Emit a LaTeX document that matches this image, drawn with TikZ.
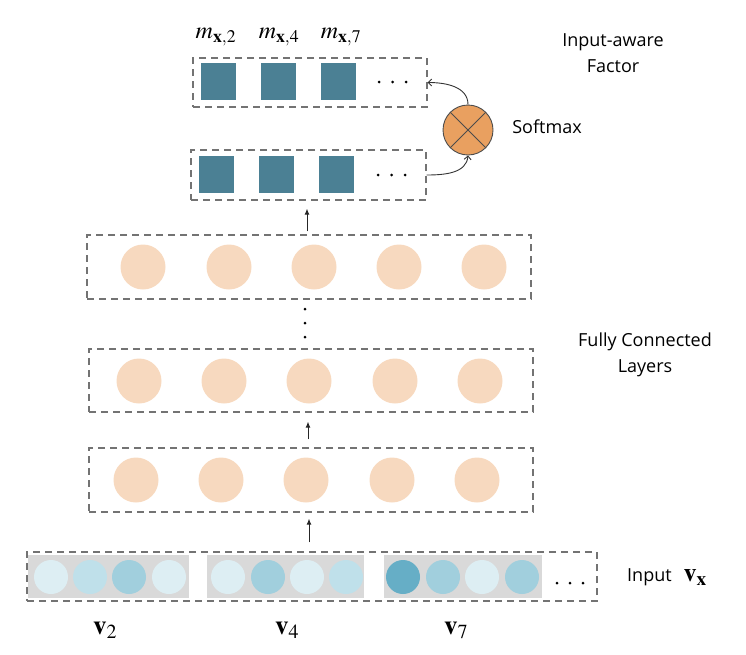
\documentclass[tikz,border=0pt]{standalone}
\usepackage{mathptmx}
\usepackage[no-math]{fontspec}
\setmainfont{Open Sans}
\usetikzlibrary{arrows.meta}
\definecolor{peach}{HTML}{F7D9BF}
\definecolor{mteal}{HTML}{4B8094}
\definecolor{cA}{HTML}{DDEEF3}
\definecolor{cB}{HTML}{BFE0EA}
\definecolor{cC}{HTML}{A1CFDD}
\definecolor{cD}{HTML}{66AEC6}
\definecolor{greyrect}{HTML}{D9D9D9}
\definecolor{smfill}{HTML}{E9A060}
\begin{document}
\begin{tikzpicture}[x=1pt,y=-1pt,
  dbox/.style={draw=black!55, line width=1.2pt, dash pattern=on 7pt off 5pt, inner sep=0pt},
  sq/.style={fill=mteal, draw=none, minimum width=35, minimum height=37, inner sep=0pt},
  fc/.style={circle, fill=peach, draw=none, minimum size=45, inner sep=0pt},
  inc/.style={circle, fill=#1, draw=none, minimum size=34, inner sep=0pt},
  grect/.style={fill=greyrect, draw=none, minimum height=43, inner sep=0pt},
  dotn/.style={circle, fill=black, draw=none, minimum size=3, inner sep=0pt},
  arr/.style={-{Latex[length=6pt,width=5pt]}, line width=1pt, black!85},
  sarr/.style={-{Straight Barb[length=3.5pt,width=7pt]}, line width=0.9pt, black!80},
  sans/.style={font=\fontsize{18}{26}\selectfont, align=center, inner sep=0pt},
  mlab/.style={font=\fontsize{24}{26}\selectfont, inner sep=0pt},
  vlab/.style={font=\fontsize{27}{30}\selectfont, inner sep=0pt}
]
\useasboundingbox (0,0) rectangle (746,654);

% dashed boxes
\node[dbox, minimum width=234, minimum height=49] (b1) at (310,82.5) {};
\node[dbox, minimum width=235, minimum height=50] (b2) at (308.5,175) {};
\node[dbox, minimum width=444, minimum height=64] (f1) at (309,267) {};
\node[dbox, minimum width=444, minimum height=63] (f2) at (311,380.5) {};
\node[dbox, minimum width=444, minimum height=64] (f3) at (311,480) {};
\node[dbox, minimum width=570, minimum height=49] (in) at (312,576.5) {};

% squares
\node[sq] (s11) at (218.5,81.5) {};
\node[sq] (s12) at (278.5,81.5) {};
\node[sq] (s13) at (338,81.5) {};
\node[sq] (s21) at (216,174) {};
\node[sq] (s22) at (276,174) {};
\node[sq] (s23) at (336,174) {};
\node[dotn] (d11) at (379,82) {};
\node[dotn] (d12) at (392.5,82) {};
\node[dotn] (d13) at (406,82) {};
\node[dotn] (d21) at (378,175) {};
\node[dotn] (d22) at (391.5,175) {};
\node[dotn] (d23) at (405,175) {};

% labels m
\node[mlab] (m2) at (216,37) {$m_{\mathbf{x},2}$};
\node[mlab] (m4) at (279,37) {$m_{\mathbf{x},4}$};
\node[mlab] (m7) at (341,37) {$m_{\mathbf{x},7}$};

% softmax
\node[circle, fill=smfill, draw=black!70, line width=0.9pt, minimum size=50, inner sep=0pt] (sm) at (468,130) {};
\draw[black!70, line width=0.9pt] (sm.45) -- (sm.225) (sm.135) -- (sm.-45);
\draw[sarr] (sm.north) to[out=90,in=0] (b1.east);
\draw[sarr] (b2.east) to[out=0,in=-95] (sm.south);

\node[sans] (smt) at (547,127) {Softmax};
\node[sans] (iaf) at (613,53) {Input-aware\\Factor};

% FC layers
\node[fc] (f1c1) at (143,267) {};
\node[fc] (f1c2) at (229,267) {};
\node[fc] (f1c3) at (314,267) {};
\node[fc] (f1c4) at (399,267) {};
\node[fc] (f1c5) at (484,267) {};

\node[fc] (f2c1) at (139,381) {};
\node[fc] (f2c2) at (224,381) {};
\node[fc] (f2c3) at (309,381) {};
\node[fc] (f2c4) at (395,381) {};
\node[fc] (f2c5) at (480,381) {};

\node[fc] (f3c1) at (136,480) {};
\node[fc] (f3c2) at (221,480) {};
\node[fc] (f3c3) at (306,480) {};
\node[fc] (f3c4) at (392,480) {};
\node[fc] (f3c5) at (477,480) {};

\node[dotn] (v1) at (305,309) {};
\node[dotn] (v2) at (305,323) {};
\node[dotn] (v3) at (305,337) {};

\node[sans] (fcl) at (645,354.5) {Fully Connected\\Layers};

% input
\node[grect, minimum width=161] (g1) at (108.5,576.5) {};
\node[grect, minimum width=157] (g2) at (285.5,576.5) {};
\node[grect, minimum width=158] (g3) at (463,576.5) {};

\node[inc=cA] (i11) at (51,577) {};
\node[inc=cB] (i12) at (90,577) {};
\node[inc=cC] (i13) at (129,577) {};
\node[inc=cA] (i14) at (169,577) {};

\node[inc=cA] (i21) at (228,577) {};
\node[inc=cC] (i22) at (268,577) {};
\node[inc=cA] (i23) at (307,577) {};
\node[inc=cB] (i24) at (346,577) {};

\node[inc=cD] (i31) at (403,577) {};
\node[inc=cC] (i32) at (443,577) {};
\node[inc=cA] (i33) at (482,577) {};
\node[inc=cC] (i34) at (522,577) {};

\node[dotn] (id1) at (557,583) {};
\node[dotn] (id2) at (570,583) {};
\node[dotn] (id3) at (583,583) {};

\node[vlab] (lv2) at (105,630) {$\mathbf{v}_2$};
\node[vlab] (lv4) at (287,630) {$\mathbf{v}_4$};
\node[vlab] (lv7) at (456,630) {$\mathbf{v}_7$};

\node[sans, anchor=west] (inp) at (627,577) {Input\hspace{12pt}{\fontsize{26}{28}\selectfont$\mathbf{v}_{\mathbf{x}}$}};

% arrows
\draw[arr, shorten <=9pt, shorten >=6pt] (in.north -| f2c3) -- (f3.south -| f2c3);
\draw[arr, shorten <=8pt, shorten >=9pt] (f3.north -| 308,0) -- (f2.south -| 308,0);
\draw[arr, shorten <=3pt, shorten >=8pt] (f1.north -| 307,0) -- (b2.south -| 307,0);
\end{tikzpicture}
\end{document}
